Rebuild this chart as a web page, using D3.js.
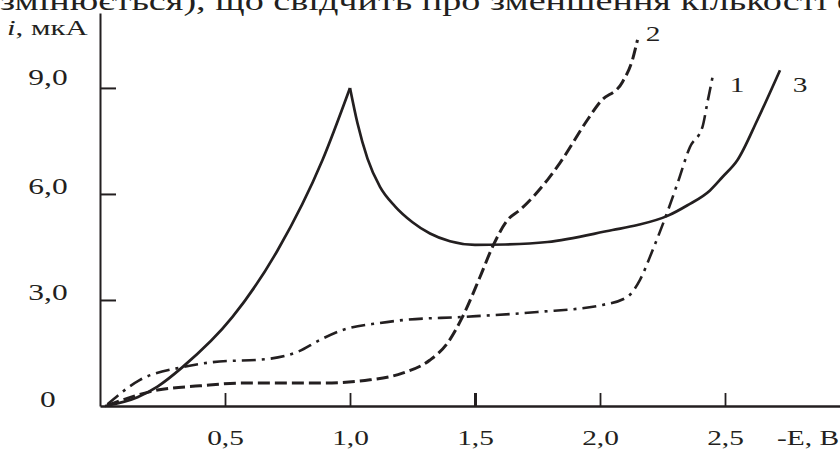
<!DOCTYPE html>
<html>
<head>
<meta charset="utf-8">
<script src="https://cdn.jsdelivr.net/npm/d3@7"></script>
<style>
  body { margin: 0; background: #fff; }
  svg { display: block; }
  text { font-family: "Liberation Serif", "DejaVu Serif", serif; fill: #231f20; }
</style>
</head>
<body>
<div id="chart"></div>
<script>
// curve 1 (dash-dot)
const e1 = [0.03, 0.16, 0.33, 0.45, 0.67, 0.79, 0.88, 0.97, 1.12, 1.21, 1.45, 1.75, 2.01, 2.11, 2.16, 2.21, 2.27, 2.31, 2.36, 2.41, 2.43, 2.45];
const i1 = [0.05, 0.74, 1.10, 1.24, 1.33, 1.53, 1.87, 2.15, 2.35, 2.43, 2.52, 2.66, 2.86, 3.09, 3.57, 4.40, 5.50, 6.30, 7.33, 7.90, 8.60, 9.30];
// curve 2 (dashed)
const e2 = [0.03, 0.23, 0.40, 0.57, 0.89, 1.08, 1.21, 1.32, 1.39, 1.45, 1.52, 1.57, 1.63, 1.68, 1.79, 1.84, 1.95, 2.00, 2.09, 2.13, 2.15];
const i2 = [0.02, 0.45, 0.57, 0.65, 0.65, 0.74, 0.93, 1.30, 1.78, 2.52, 3.65, 4.50, 5.26, 5.55, 6.40, 6.88, 8.10, 8.60, 9.17, 9.80, 10.36];
// curve 3 (solid), peak at 1.0 V
const e3 = [0.02, 0.15, 0.23, 0.33, 0.53, 0.71, 0.89, 1.00, 1.03, 1.07, 1.12, 1.18, 1.25, 1.32, 1.40, 1.50, 1.62, 1.79, 2.05, 2.15, 2.27, 2.35, 2.44, 2.49, 2.55, 2.63, 2.72];
const i3 = [0.00, 0.25, 0.55, 1.10, 2.52, 4.40, 6.96, 9.00, 8.00, 7.00, 6.20, 5.65, 5.20, 4.88, 4.66, 4.56, 4.57, 4.64, 4.98, 5.12, 5.38, 5.68, 6.10, 6.48, 6.96, 8.10, 9.50];

const xTicks = [0.5, 1.0, 1.5, 2.0, 2.5];
const xTickLabels = ["0,5", "1,0", "1,5", "2,0", "2,5"];
const yTicks = [0, 3, 6, 9];
const yTickLabels = ["0", "3,0", "6,0", "9,0"];
const curveNames = ["1", "2", "3"];

const W = 840, H = 450;
const ink = "#231f20";
const stretch = 1.4;   // the scanned figure is widened horizontally

const svg = d3.select("#chart").append("svg")
    .attr("width", W)
    .attr("height", H);

const x = d3.scaleLinear().domain([0, 2.96]).range([100, 840]);
const y = d3.scaleLinear().domain([0, 11.12]).range([406, 13]);

//wide serif text, as in the source figure
function label(parent, px, py, str, anchor, size) {
    return parent.append("text")
        .attr("transform", "translate(" + px + "," + py + ") scale(" + stretch + ",1)")
        .attr("text-anchor", anchor)
        .style("font-size", size + "px")
        .text(str);
}

// cut-off line of body text above the figure
label(svg, 0, 10, "змінюється), що свідчить про зменшення кількості е", "start", 27.3);

// x axis
const xAxis = svg.append("g")
    .attr("transform", "translate(0," + y(0) + ")")
    .call(d3.axisBottom(x).tickValues(xTicks).tickSizeInner(-13).tickSizeOuter(0)
        .tickFormat((d, i) => xTickLabels[i]));
xAxis.select(".domain").attr("stroke", ink).attr("stroke-width", 2.5);
xAxis.selectAll(".tick line").attr("stroke", ink).attr("stroke-width", (d) => d === 1.5 ? 3 : 1.8);
xAxis.selectAll(".tick text").remove();
xAxis.selectAll(".tick").each(function (d, i) {
    label(d3.select(this), 0, 39, xTickLabels[i], "middle", 21);
});

// y axis
const yAxis = svg.append("g")
    .attr("transform", "translate(" + x(0) + ",0)")
    .call(d3.axisLeft(y).tickValues(yTicks).tickSizeInner(-16).tickSizeOuter(0)
        .tickFormat((d, i) => yTickLabels[i]));
yAxis.select(".domain").attr("stroke", ink).attr("stroke-width", 2);
yAxis.selectAll(".tick line").attr("stroke", ink).attr("stroke-width", 2)
    .style("display", (d) => d === 0 ? "none" : null);
yAxis.selectAll(".tick text").remove();
yAxis.selectAll(".tick").each(function (d, i) {
    label(d3.select(this), -52, d === 9 ? -3 : 0, yTickLabels[i], "middle", 22.5);
});

// axis titles
const yTitle = svg.append("text")
    .attr("transform", "translate(7,35) scale(" + stretch + ",1)")
    .style("font-size", "22px");
yTitle.append("tspan").style("font-style", "italic").text("i");
yTitle.append("tspan").text(", мкА");
label(svg, 777, 445, "-E, B", "start", 21);

//The line generator
const line = d3.line()
    .x(d => x(d[0]))
    .y(d => y(d[1]))
    .curve(d3.curveMonotoneX);

const pts1 = d3.zip(e1, i1);
const pts2 = d3.zip(e2, i2);
const pts3 = d3.zip(e3, i3);
const peak = d3.maxIndex(i3.slice(0, 10));

svg.append("path")
    .attr("d", line(pts1))
    .attr("fill", "none")
    .attr("stroke", ink)
    .attr("stroke-width", 2.6)
    .attr("stroke-dasharray", "14,6,3,6");

svg.append("path")
    .attr("d", line(pts2))
    .attr("fill", "none")
    .attr("stroke", ink)
    .attr("stroke-width", 3)
    .attr("stroke-dasharray", "12,5");

// solid curve has a sharp cusp at the peak: draw it as two pieces
[pts3.slice(0, peak + 1), pts3.slice(peak)].forEach(seg => {
    svg.append("path")
        .attr("d", line(seg))
        .attr("fill", "none")
        .attr("stroke", ink)
        .attr("stroke-width", 2.7);
});

// curve numbers
label(svg, 653, 41, curveNames[1], "middle", 21);
label(svg, 737, 92, curveNames[0], "middle", 21);
label(svg, 800, 92, curveNames[2], "middle", 21);
</script>
</body>
</html>
